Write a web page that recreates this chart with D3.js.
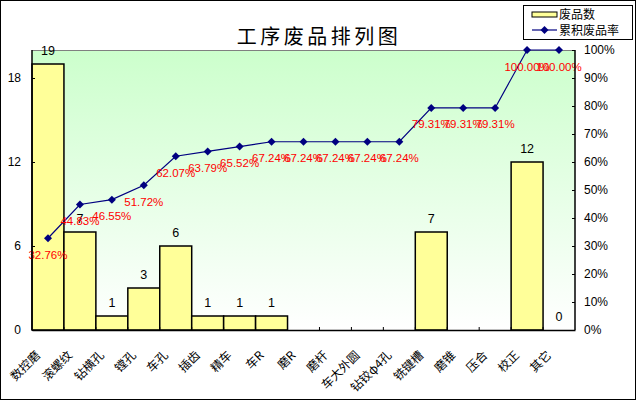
<!DOCTYPE html>
<html>
<head>
<meta charset="utf-8">
<script src="https://cdn.jsdelivr.net/npm/d3@7"></script>
<style>
  body { margin: 0; background: #fff; }
  svg { display: block; }
</style>
</head>
<body>
<svg id="pareto" width="637" height="401"></svg>
<script>
// data
const categories = ["数控磨", "滚螺纹", "钻横孔", "镗孔", "车孔", "插齿", "精车", "车R", "磨R",
    "磨杆", "车大外圆", "钻铰φ4孔", "铣键槽", "磨锥", "压合", "校正", "其它"];
const counts = [19, 7, 1, 3, 6, 1, 1, 1, 0, 0, 0, 0, 7, 0, 0, 12, 0];
const countLabels = ["19", "7", "1", "3", "6", "1", "1", "1", null, null, null, null, "7", null, null, "12", "0"];
const cumRates = [32.76, 44.83, 46.55, 51.72, 62.07, 63.79, 65.52, 67.24, 67.24,
    67.24, 67.24, 67.24, 79.31, 79.31, 79.31, 100.00, 100.00];
const leftTicks = [0, 6, 12, 18];
const rightTicks = [0, 10, 20, 30, 40, 50, 60, 70, 80, 90, 100];

const svg = d3.select("#pareto"),
    plot = { left: 32, top: 50, right: 575, bottom: 330 };

const latin = "'Liberation Sans', Arial, sans-serif";
const cjk = "'Noto Sans CJK SC', 'Liberation Sans', sans-serif";

// outer frame
svg.append("rect")
    .attr("x", 0.5).attr("y", 0.5)
    .attr("width", 635).attr("height", 399)
    .attr("fill", "#fff")
    .attr("stroke", "#000");

// background gradient
const grad = svg.append("defs").append("linearGradient")
    .attr("id", "bg").attr("x1", 0).attr("y1", 0).attr("x2", 0).attr("y2", 1);
grad.append("stop").attr("offset", "0%").attr("stop-color", "#ccffcc");
grad.append("stop").attr("offset", "100%").attr("stop-color", "#ffffff");

svg.append("rect")
    .attr("x", plot.left).attr("y", plot.top)
    .attr("width", plot.right - plot.left).attr("height", plot.bottom - plot.top)
    .attr("fill", "url(#bg)");

svg.append("line")
    .attr("x1", plot.left).attr("x2", plot.right)
    .attr("y1", plot.top + 0.5).attr("y2", plot.top + 0.5)
    .attr("stroke", "#808080");

// scales
const x = d3.scaleBand()
    .domain(categories)
    .range([plot.left, plot.right])
    .padding(0);

const y = d3.scaleLinear().domain([0, 20]).range([plot.bottom, plot.top]);
const yr = d3.scaleLinear().domain([0, 100]).range([plot.bottom, plot.top]);

// bars
svg.append("g").selectAll("rect")
    .data(counts.map((v, i) => ({ cat: categories[i], v })))
    .join("rect")
    .attr("x", d => x(d.cat))
    .attr("y", d => y(d.v))
    .attr("width", x.bandwidth())
    .attr("height", d => y(0) - y(d.v))
    .attr("fill", "#ffff99")
    .attr("stroke", "#000")
    .attr("stroke-width", 1.5);

// bar labels
svg.append("g").selectAll("text")
    .data(countLabels.map((t, i) => ({ cat: categories[i], t, v: counts[i] })).filter(d => d.t !== null))
    .join("text")
    .attr("x", d => x(d.cat) + x.bandwidth() / 2)
    .attr("y", d => y(d.v) - 9.5)
    .attr("text-anchor", "middle")
    .style("font-family", latin)
    .style("font-size", "12.5px")
    .style("fill", "#000")
    .text(d => d.t);

// cumulative line
const line = d3.line()
    .x((d, i) => x(categories[i]) + x.bandwidth() / 2)
    .y(d => yr(d));

svg.append("path")
    .datum(cumRates)
    .attr("d", line)
    .attr("fill", "none")
    .attr("stroke", "#000080")
    .attr("stroke-width", 1.2);

svg.append("g").selectAll("path")
    .data(cumRates)
    .join("path")
    .attr("transform", (d, i) => `translate(${x(categories[i]) + x.bandwidth() / 2},${yr(d)})`)
    .attr("d", "M0,-4L4,0L0,4L-4,0Z")
    .attr("fill", "#000080");

svg.append("g").selectAll("text")
    .data(cumRates)
    .join("text")
    .attr("x", (d, i) => x(categories[i]) + x.bandwidth() / 2)
    .attr("y", d => yr(d) + 20.5)
    .attr("text-anchor", "middle")
    .style("font-family", latin)
    .style("font-size", "11.5px")
    .style("fill", "#ff0000")
    .text(d => d.toFixed(2) + "%");

// axes
const leftAxis = svg.append("g")
    .attr("transform", `translate(${plot.left},0)`)
    .call(d3.axisRight(y).tickValues(leftTicks).tickSize(3).tickFormat(d3.format("d")));
leftAxis.selectAll("text")
    .attr("x", -11)
    .attr("text-anchor", "end");

const rightAxis = svg.append("g")
    .attr("transform", `translate(${plot.right},0)`)
    .call(d3.axisLeft(yr).tickValues(rightTicks).tickSize(3).tickFormat(d => d + "%"));
rightAxis.selectAll("text")
    .attr("x", 9)
    .attr("text-anchor", "start");

const bottomAxis = svg.append("g")
    .attr("transform", `translate(0,${plot.bottom})`)
    .call(d3.axisTop(x).tickSize(0).tickFormat(""));
bottomAxis.selectAll(".tick").remove();

// category boundary ticks on x axis
svg.append("g").selectAll("line")
    .data(categories.slice(1))
    .join("line")
    .attr("x1", d => x(d)).attr("x2", d => x(d))
    .attr("y1", plot.bottom).attr("y2", plot.bottom - 3)
    .attr("stroke", "#000");

[leftAxis, rightAxis, bottomAxis].forEach(a => {
    a.select(".domain").attr("stroke", "#000").attr("stroke-width", 1.5);
    a.selectAll(".tick line").attr("stroke", "#000");
    a.selectAll("text")
        .style("font-family", latin)
        .style("font-size", "12px")
        .style("fill", "#000");
});
leftAxis.select(".domain").attr("d", `M0,${plot.top}V${plot.bottom}`);
rightAxis.select(".domain").attr("d", `M0,${plot.top}V${plot.bottom}`);

// category labels
svg.append("g").selectAll("text")
    .data(categories)
    .join("text")
    .attr("transform", d => `translate(${x(d) + x.bandwidth() / 2 - 7},${plot.bottom + 26}) rotate(-45)`)
    .attr("text-anchor", "end")
    .style("font-family", cjk)
    .style("font-size", "12px")
    .style("fill", "#000")
    .text(d => d);

// title
svg.append("text")
    .attr("x", 319)
    .attr("y", 44)
    .attr("text-anchor", "middle")
    .style("font-family", cjk)
    .style("font-size", "20px")
    .style("letter-spacing", "3.5px")
    .style("fill", "#000")
    .text("工序废品排列图");

// legend
const legend = svg.append("g").attr("transform", "translate(523,5)");
legend.append("rect")
    .attr("x", 0.5).attr("y", 0.5)
    .attr("width", 109).attr("height", 34)
    .attr("fill", "#fff")
    .attr("stroke", "#000");
legend.append("rect")
    .attr("x", 9).attr("y", 7)
    .attr("width", 25).attr("height", 5)
    .attr("fill", "#ffff99")
    .attr("stroke", "#000");
legend.append("line")
    .attr("x1", 9).attr("x2", 34)
    .attr("y1", 25).attr("y2", 25)
    .attr("stroke", "#000080")
    .attr("stroke-width", 1.2);
legend.append("path")
    .attr("transform", "translate(21.5,25)")
    .attr("d", "M0,-4L4,0L0,4L-4,0Z")
    .attr("fill", "#000080");
legend.selectAll(".lt")
    .data(["废品数", "累积废品率"])
    .join("text")
    .attr("class", "lt")
    .attr("x", 36)
    .attr("y", (d, i) => 14 + i * 16)
    .style("font-family", cjk)
    .style("font-size", "12px")
    .style("fill", "#000")
    .text(d => d);
</script>
</body>
</html>
